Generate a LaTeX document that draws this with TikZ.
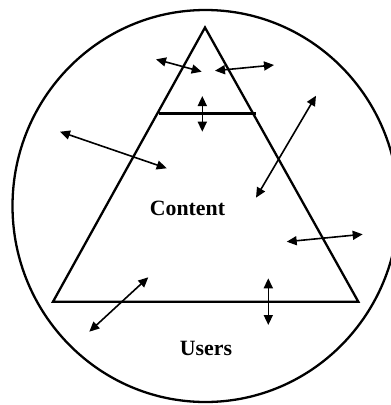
\documentclass[tikz,border=0pt]{standalone}
\usepackage{fontspec}
\setmainfont{Liberation Serif}
\usetikzlibrary{arrows.meta}
\tikzset{
  outline/.style={line width=2.3pt},
  barline/.style={line width=3.2pt},
  twoway/.style={line width=1.6pt,{Triangle[length=10pt,width=9pt]}-{Triangle[length=10pt,width=9pt]}},
  label/.style={anchor=base,inner sep=0pt,font=\fontsize{21.8}{26}\selectfont\bfseries}
}
\begin{document}
\begin{tikzpicture}[x=1pt,y=-1pt]
\useasboundingbox (0,0) rectangle (391,405);
\clip (0,0) rectangle (391,405);
% outer circle
\draw[outline] (205.5,206) ellipse [x radius=193, y radius=196];
% triangle
\coordinate (apex) at (205,27.5);
\coordinate (bl) at (53,301.7);
\coordinate (br) at (358.3,301.7);
\draw[outline] (apex) -- (br) -- (bl) -- cycle;
% bar
\coordinate (barL) at (159.3,113.3);
\coordinate (barR) at (256,113.3);
\draw[barline] (barL) -- (barR);
% arrow end points
\coordinate (a1s) at (156,59.3);   \coordinate (a1e) at (201.7,71.7);
\coordinate (a2s) at (215,70.7);   \coordinate (a2e) at (274,65);
\coordinate (a3s) at (202.3,96);   \coordinate (a3e) at (202.3,131.7);
\coordinate (a4s) at (60,131.7);   \coordinate (a4e) at (166.7,168.3);
\coordinate (a5s) at (316,95.7);   \coordinate (a5e) at (256,197.7);
\coordinate (a6s) at (286.7,241.7); \coordinate (a6e) at (362.7,234.3);
\coordinate (a7s) at (148.3,277.3); \coordinate (a7e) at (89.3,331.7);
\coordinate (a8s) at (268.3,278.3); \coordinate (a8e) at (268.3,325);
\foreach \i in {1,...,8} {\draw[twoway] (a\i s) -- (a\i e);}
% labels
\node[label] (content) at (187.5,215.7) {Content};
\node[label] (users) at (206,355.7) {Users};
\end{tikzpicture}
\end{document}
